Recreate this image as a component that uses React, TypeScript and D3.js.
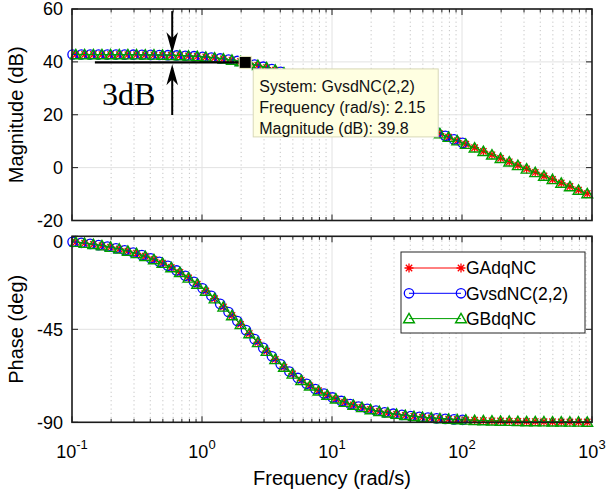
import React from "react";
import * as d3 from "d3";

// ---- data ----
const freqGA = [0.107,0.125,0.146,0.170,0.198,0.231,0.269,0.314,0.366,0.427,0.497,0.580,0.676,0.788,0.919,
  1.07,1.25,1.46,1.70,1.98,2.31,2.69,3.14,3.66,4.27,4.97,5.80,6.76,7.88,9.19,
  10.7,12.5,14.6,17.0,19.8,23.1,26.9,31.4,36.6,42.7,49.7,58.0,67.6,78.8,91.9,
  107,125,146,170,198,231,269,314,366,427,497,580,676,788,919];
const magGA = [42.79,42.79,42.78,42.77,42.76,42.75,42.73,42.71,42.68,42.63,42.57,42.50,42.39,42.25,42.07,
  41.84,41.54,41.15,40.69,40.13,39.47,38.71,37.84,36.89,35.86,34.78,33.62,32.43,31.21,29.95,
  28.69,27.38,26.07,24.77,23.46,22.14,20.83,19.49,18.16,16.83,15.52,14.18,12.85,11.52,10.18,
  8.86,7.51,6.16,4.84,3.52,2.18,0.85,-0.49,-1.82,-3.16,-4.48,-5.82,-7.15,-8.48,-9.82];
const phaseGA = [-2.85,-3.33,-3.88,-4.52,-5.26,-6.13,-7.13,-8.31,-9.66,-11.23,-13.02,-15.10,-17.45,-20.13,-23.14,
  -26.46,-30.18,-34.18,-38.33,-42.64,-47.06,-51.37,-55.60,-59.57,-63.28,-66.61,-69.66,-72.36,-74.74,-76.83,
  -78.64,-80.24,-81.62,-82.79,-83.80,-84.68,-85.43,-86.08,-86.64,-87.12,-87.52,-87.88,-88.18,-88.44,-88.66,
  -88.85,-89.01,-89.16,-89.28,-89.38,-89.47,-89.54,-89.61,-89.66,-89.71,-89.75,-89.79,-89.82,-89.84,-89.87];

const freqGV = [0.101,0.118,0.138,0.160,0.187,0.218,0.254,0.296,0.345,0.403,0.470,0.547,0.638,0.744,0.868,
  1.01,1.18,1.38,1.60,1.87,2.18,2.54,2.96,3.45,4.03,4.70,5.47,6.38,7.44,8.68,
  10.1,11.8,13.8,16.0,18.7,21.8,25.4,29.6,34.5,40.3,47.0,54.7,63.8,74.4,86.8,101];
const magGV = [42.79,42.79,42.78,42.78,42.77,42.76,42.74,42.72,42.69,42.65,42.60,42.53,42.43,42.31,42.14,
  41.93,41.66,41.30,40.89,40.35,39.73,39.01,38.18,37.27,36.26,35.18,34.07,32.89,31.67,30.42,
  29.17,27.87,26.55,25.29,23.96,22.64,21.32,20.00,18.68,17.33,16.00,14.68,13.35,12.01,10.68,9.36];
const phaseGV = [-2.69,-3.14,-3.67,-4.26,-4.97,-5.79,-6.74,-7.84,-9.12,-10.62,-12.33,-14.28,-16.53,-19.09,-21.99,
  -25.16,-28.76,-32.70,-36.66,-41.01,-45.40,-49.76,-53.99,-58.07,-61.92,-65.42,-68.54,-71.38,-73.88,-76.09,
  -77.98,-79.67,-81.14,-82.35,-83.44,-84.37,-85.16,-85.85,-86.43,-86.95,-87.38,-87.75,-88.07,-88.34,-88.58,-88.78];

// GBdqNC coincides with GAdqNC in the picture
const freqGB = freqGA;
const magGB = magGA;
const phaseGB = phaseGA;

const seriesNames = ["GAdqNC", "GvsdNC(2,2)", "GBdqNC"];
const magTicks = [60, 40, 20, 0, -20];
const phaseTicks = [0, -45, -90];
const decadeExps = [-1, 0, 1, 2, 3];
const tipFreq = 2.15;
const tipMag = 39.8;
const tipLines = ["System: GvsdNC(2,2)", "Frequency (rad/s): 2.15", "Magnitude (dB): 39.8"];
const annoLineStart = 0.15;
const arrowFreq = 0.59;
const downArrow = [59.2, 43.3];
const upArrow = [19.9, 39.1];

// ---- layout ----
const W = 608, H = 492;
const L = 72, R = 592;
const magTop = 9, magBot = 220.5;
const phTop = 236.3, phBot = 422.3;
const axisColor = "#1c1c1c";
const font = "'Liberation Sans', Arial, Helvetica, sans-serif";

const x = d3.scaleLog().domain([0.1, 1000]).range([L, R]);
const yM = d3.scaleLinear().domain([-20, 60]).range([magBot, magTop]);
const yP = d3.scaleLinear().domain([-90, 0]).range([phBot, phTop]);

const minorVals: number[] = [];
[-1, 0, 1, 2].forEach((e) => {
  for (let m = 2; m <= 9; m++) minorVals.push(m * Math.pow(10, e));
});
const majorVals = decadeExps.map((e) => Math.pow(10, e));

const COLORS = ["#ff0000", "#0000ff", "#00a000"];

function Marker({ kind, cx, cy, color }: { kind: number; cx: number; cy: number; color: string }) {
  if (kind === 0) {
    const s = 4.5, d = 3.2;
    return (
      <path
        d={`M${cx - s},${cy}H${cx + s}M${cx},${cy - s}V${cy + s}M${cx - d},${cy - d}L${cx + d},${cy + d}M${cx - d},${cy + d}L${cx + d},${cy - d}`}
        stroke={color} strokeWidth={1.3} fill="none"
      />
    );
  }
  if (kind === 1) {
    return <circle cx={cx} cy={cy} r={4.7} stroke={color} strokeWidth={1.3} fill="none" />;
  }
  return (
    <path d={`M${cx},${cy - 5.2}L${cx + 5.4},${cy + 4.2}L${cx - 5.4},${cy + 4.2}Z`} stroke={color} strokeWidth={1.4} fill="none" />
  );
}

function Series({ f, v, y, kind }: { f: number[]; v: number[]; y: (n: number) => number; kind: number }) {
  const line = d3.line<number>().x((_, i) => x(f[i])).y((d) => y(d));
  return (
    <g>
      <path d={line(v) || ""} stroke={COLORS[kind]} strokeWidth={1} fill="none" />
      {v.map((d, i) => (
        <Marker key={i} kind={kind} cx={x(f[i])} cy={y(d)} color={COLORS[kind]} />
      ))}
    </g>
  );
}

function Axes({ top, bot, y, ticks }: { top: number; bot: number; y: d3.ScaleLinear<number, number>; ticks: number[] }) {
  return (
    <g>
      {minorVals.map((v, i) => (
        <line key={"mg" + i} x1={x(v)} x2={x(v)} y1={top} y2={bot} stroke="#c4c4c4" strokeWidth={1} strokeDasharray="1.2,3" />
      ))}
      {majorVals.map((v, i) => (
        <line key={"Mg" + i} x1={x(v)} x2={x(v)} y1={top} y2={bot} stroke="#e2e2e2" strokeWidth={1} />
      ))}
      {ticks.map((t, i) => (
        <line key={"yg" + i} x1={L} x2={R} y1={y(t)} y2={y(t)} stroke="#e2e2e2" strokeWidth={1} />
      ))}
    </g>
  );
}

function Frame({ top, bot, y, ticks }: { top: number; bot: number; y: d3.ScaleLinear<number, number>; ticks: number[] }) {
  return (
    <g stroke={axisColor}>
      {minorVals.map((v, i) => (
        <g key={"mt" + i}>
          <line x1={x(v)} x2={x(v)} y1={bot} y2={bot - 3.5} strokeWidth={1} />
          <line x1={x(v)} x2={x(v)} y1={top} y2={top + 3.5} strokeWidth={1} />
        </g>
      ))}
      {majorVals.map((v, i) => (
        <g key={"Mt" + i}>
          <line x1={x(v)} x2={x(v)} y1={bot} y2={bot - 6} strokeWidth={1} />
          <line x1={x(v)} x2={x(v)} y1={top} y2={top + 6} strokeWidth={1} />
        </g>
      ))}
      {ticks.map((t, i) => (
        <g key={"yt" + i}>
          <line x1={L} x2={L + 6} y1={y(t)} y2={y(t)} strokeWidth={1} />
          <line x1={R} x2={R - 6} y1={y(t)} y2={y(t)} strokeWidth={1} />
        </g>
      ))}
      <rect x={L} y={top} width={R - L} height={bot - top} fill="none" strokeWidth={1.6} />
    </g>
  );
}

function Arrow({ xc, y0, y1 }: { xc: number; y0: number; y1: number }) {
  // y0 = tail, y1 = tip
  const dir = y1 > y0 ? 1 : -1;
  const wingBack = 21, notch = 15, half = 5.8;
  const head = `M${xc},${y1}L${xc + half},${y1 - dir * wingBack}L${xc},${y1 - dir * notch}L${xc - half},${y1 - dir * wingBack}Z`;
  return (
    <g>
      <line x1={xc} x2={xc} y1={y0} y2={y1 - dir * 10} stroke="#000" strokeWidth={2} />
      <path d={head} fill="#000" />
    </g>
  );
}

export default function App() {
  const tx = x(tipFreq), ty = yM(tipMag);
  const boxX = tx + 8, boxY = ty + 6.5, boxW = 185, boxH = 68;
  const legX = 401, legY = 252, legW = 184, legH = 81;
  const ax = x(arrowFreq);
  return (
    <svg width={W} height={H} style={{ position: "absolute", left: 0, top: 0, background: "#fff" }} fontFamily={font}>
      <rect x={0} y={0} width={W} height={H} fill="#fff" />
      {/* Magnitude axes */}
      <Axes top={magTop} bot={magBot} y={yM} ticks={magTicks} />
      <Series f={freqGA} v={magGA} y={yM} kind={0} />
      <Series f={freqGV} v={magGV} y={yM} kind={1} />
      <Series f={freqGB} v={magGB} y={yM} kind={2} />
      <Frame top={magTop} bot={magBot} y={yM} ticks={magTicks} />

      {/* Phase axes */}
      <Axes top={phTop} bot={phBot} y={yP} ticks={phaseTicks} />
      <Series f={freqGA} v={phaseGA} y={yP} kind={0} />
      <Series f={freqGV} v={phaseGV} y={yP} kind={1} />
      <Series f={freqGB} v={phaseGB} y={yP} kind={2} />
      <Frame top={phTop} bot={phBot} y={yP} ticks={phaseTicks} />

      {/* y tick labels */}
      <g fontSize={18} fill="#000" textAnchor="end">
        {magTicks.map((t) => (
          <text key={"ml" + t} x={63} y={yM(t)} dy="0.36em">{t}</text>
        ))}
        {phaseTicks.map((t) => (
          <text key={"pl" + t} x={63} y={yP(t) + (t === 0 ? 5 : 0)} dy="0.36em">{t}</text>
        ))}
      </g>
      {/* x tick labels */}
      <g fill="#000">
        {decadeExps.map((e) => (
          <text key={"xl" + e} x={x(Math.pow(10, e))} y={458} textAnchor="middle" fontSize={18}>
            10<tspan fontSize={13} dy={-9}>{e}</tspan>
          </text>
        ))}
      </g>
      {/* axis labels */}
      <text x={332} y={485} textAnchor="middle" fontSize={20} fill="#000">Frequency  (rad/s)</text>
      <text transform={`translate(23,${(magTop + magBot) / 2}) rotate(-90)`} textAnchor="middle" fontSize={20} fill="#000">Magnitude (dB)</text>
      <text transform={`translate(23,${(phTop + phBot) / 2}) rotate(-90)`} textAnchor="middle" fontSize={20} fill="#000">Phase (deg)</text>

      {/* 3dB annotation */}
      <line x1={x(annoLineStart)} x2={tx} y1={ty} y2={ty} stroke="#000" strokeWidth={2.2} />
      <Arrow xc={ax} y0={yM(downArrow[0])} y1={yM(downArrow[1])} />
      <Arrow xc={ax} y0={yM(upArrow[0])} y1={yM(upArrow[1])} />
      <text x={102} y={105} fontFamily="'Liberation Serif', 'Times New Roman', serif" fontSize={32} fill="#000">3dB</text>

      {/* datatip */}
      <rect x={tx - 6} y={ty - 6} width={12} height={12} fill="#000" stroke="#f0f0c8" strokeWidth={1} />
      <rect x={boxX} y={boxY} width={boxW} height={boxH} fill="#ffffe1" stroke="#d8d8b8" strokeWidth={1} />
      <g fontSize={16} fill="#111">
        {tipLines.map((s, i) => (
          <text key={s} x={boxX + 6} y={boxY + 23.5 + i * 21}>{s}</text>
        ))}
      </g>

      {/* legend */}
      <rect x={legX} y={legY} width={legW} height={legH} fill="#fff" stroke="#262626" strokeWidth={1} />
      {seriesNames.map((name, i) => {
        const ly = legY + 16 + i * 25.3;
        return (
          <g key={name}>
            <line x1={legX + 8} x2={legX + 60} y1={ly} y2={ly} stroke={COLORS[i]} strokeWidth={1} />
            <Marker kind={i} cx={legX + 8} cy={ly} color={COLORS[i]} />
            <Marker kind={i} cx={legX + 60} cy={ly} color={COLORS[i]} />
            <text x={legX + 65} y={ly} dy="0.36em" fontSize={17.5} fill="#000">{name}</text>
          </g>
        );
      })}
    </svg>
  );
}
